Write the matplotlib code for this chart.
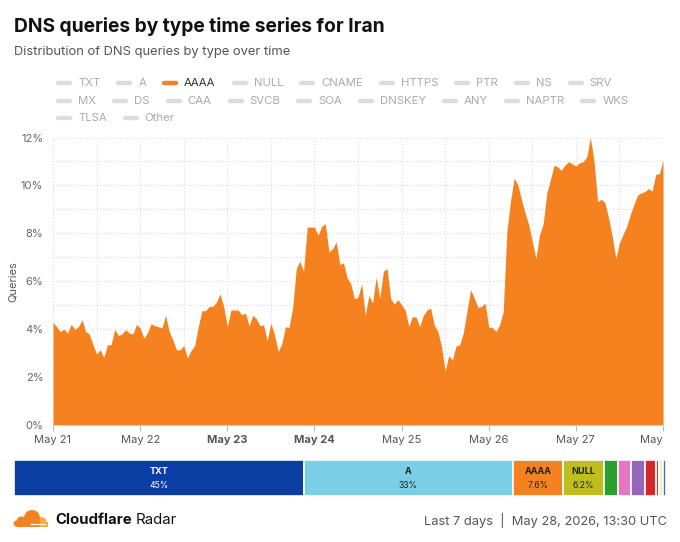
import matplotlib
matplotlib.use("Agg")
import matplotlib.pyplot as plt
from matplotlib.lines import Line2D
from matplotlib.patches import Circle, Rectangle
from datetime import datetime, timedelta

# ---------------- data ----------------
title = "DNS queries by type time series for Iran"
subtitle = "Distribution of DNS queries by type over time"
legend_items = ["TXT", "A", "AAAA", "NULL", "CNAME", "HTTPS", "PTR", "NS", "SRV",
                "MX", "DS", "CAA", "SVCB", "SOA", "DNSKEY", "ANY", "NAPTR", "WKS",
                "TLSA", "Other"]
active_item = "AAAA"

start = datetime(2026, 5, 21)
# AAAA share of DNS queries (%), hourly from May 21 00:00 UTC
aaaa = [
    4.28, 4.10, 3.90, 4.00, 3.84, 4.20, 4.00, 4.10, 4.40, 3.90,
    3.80, 3.35, 2.96, 3.14, 2.82, 3.35, 3.35, 4.00, 3.74, 3.80,
    3.98, 3.84, 3.80, 4.20, 4.05, 3.63, 3.84, 4.23, 4.15, 4.10,
    4.05, 4.58, 3.90, 3.56, 3.14, 3.14, 3.32, 2.80, 3.10, 3.32,
    4.10, 4.77, 4.77, 4.95, 4.95, 5.13, 5.47, 4.95, 4.10, 4.80,
    4.80, 4.80, 4.60, 4.67, 4.14, 4.58, 4.44, 4.14, 4.18, 3.52,
    4.25, 3.77, 3.07, 3.38, 4.10, 4.07, 4.90, 6.53, 6.84, 6.42,
    8.26, 8.26, 8.26, 7.92, 8.30, 8.40, 7.23, 7.36, 7.64, 6.70,
    6.77, 6.14, 5.90, 5.27, 5.33, 5.90, 4.58, 5.41, 5.09, 6.17,
    5.30, 6.42, 6.53, 5.27, 5.05, 5.23, 5.02, 4.80, 4.11, 4.53,
    4.50, 4.11, 4.58, 4.80, 4.88, 4.18, 3.90, 3.28, 2.26, 2.89,
    2.72, 3.30, 3.35, 3.84, 4.74, 5.65, 5.30, 4.91, 4.95, 5.09,
    4.09, 4.07, 3.90, 4.18, 4.74, 8.09, 9.34, 10.30, 10.04, 9.42,
    8.86, 8.37, 7.67, 6.95, 7.95, 8.40, 9.69, 10.25, 10.85, 10.77,
    10.63, 10.85, 10.99, 10.90, 10.81, 10.95, 10.99, 11.19, 12.00, 11.02,
    9.32, 9.42, 9.28, 8.65, 7.88, 6.97, 7.60, 7.95, 8.30, 8.79,
    9.21, 9.60, 9.69, 9.74, 9.87, 9.76, 10.46, 10.49, 11.05,
]
x_tick_labels = ["May 21", "May 22", "May 23", "May 24", "May 25", "May 26", "May 27", "May"]
bold_ticks = ["May 23", "May 24"]
y_ticks = [0, 2, 4, 6, 8, 10, 12]
y_label = "Queries"

# summary bar
seg_names = ["TXT", "A", "AAAA", "NULL", "CNAME", "HTTPS", "PTR", "NS", "SRV", "MX", "DS"]
seg_values = [44.5, 32.0, 7.7, 6.3, 2.1, 2.1, 2.1, 1.7, 0.35, 0.7, 0.45]
seg_colors = ["#0A3EA2", "#7ACFE6", "#F6821F", "#BEBE1C", "#2CA02C", "#E377C2",
              "#9467BD", "#D62728", "#8C564B", "#F6EDB8", "#4A6FA8"]
seg_labels = {"TXT": "45%", "A": "33%", "AAAA": "7.6%", "NULL": "6.2%"}
seg_text_colors = {"TXT": "white", "A": "#222222", "AAAA": "#222222", "NULL": "#222222"}

footer_right = "Last 7 days  |  May 28, 2026, 13:30 UTC"

# ---------------- figure ----------------
W, H = 680, 542
plt.rcParams["font.family"] = ["Inter", "DejaVu Sans"]
fig = plt.figure(figsize=(W / 100, H / 100), dpi=100)
fig.patch.set_facecolor("white")
renderer = fig.canvas.get_renderer()


def fx(x):
    return x / W


def fy(y):
    return 1 - y / H


def fit(t, target_w):
    bb = t.get_window_extent(renderer)
    t.set_fontsize(t.get_fontsize() * target_w / bb.width)
    return t


t = fig.text(fx(14), fy(27), title, fontsize=15, weight="bold", color="#111111", va="center")
fit(t, 371)
t = fig.text(fx(14), fy(52), subtitle, fontsize=10, color="#555555", va="center")
fit(t, 279)

# legend (flow layout)
row_y = [83, 101, 118]
lx, row = 56, 0
for name in legend_items:
    tt = fig.text(0, 0, name, fontsize=8.2)
    w = tt.get_window_extent(renderer).width
    tt.remove()
    if lx + 22 + w > 650:
        row += 1
        lx = 56
    y = row_y[row]
    active = name == active_item
    fig.add_artist(Line2D([fx(lx + 2), fx(lx + 14)], [fy(y), fy(y)], transform=fig.transFigure,
                          color="#F6821F" if active else "#DDDDDD", lw=3.2, solid_capstyle="round"))
    fig.text(fx(lx + 22), fy(y), name, fontsize=8.2, va="center",
             color="#333333" if active else "#AAAAAA")
    lx = lx + 22 + w + 16

# main chart
ax = fig.add_axes([fx(53), fy(425), fx(663) - fx(53), fy(137.5) - fy(425)])
times = [start + timedelta(hours=i) for i in range(len(aaaa))]
ax.fill_between(times, aaaa, 0, color="#F6821F", linewidth=0, zorder=2)
ax.set_xlim(start, start + timedelta(days=7))
ax.set_ylim(0, 12)
ax.set_yticks(y_ticks)
ax.set_yticks(range(0, 13), minor=True)
ax.set_yticklabels([f"{v}%" for v in y_ticks])
day_ticks = [start + timedelta(days=i) for i in range(len(x_tick_labels))]
ax.set_xticks(day_ticks)
ax.set_xticks([start + timedelta(hours=12 * i) for i in range(15)], minor=True)
ax.set_xticklabels(x_tick_labels)
for lab in ax.get_xticklabels():
    if lab.get_text() in bold_ticks:
        lab.set_fontweight("bold")
        lab.set_color("#333333")
    if lab.get_text() == "May":
        lab.set_horizontalalignment("right")
ax.grid(True, which="both", linestyle=(0, (1, 2)), color="#D9D9D9", linewidth=0.8, zorder=0)
ax.tick_params(axis="x", which="major", length=4, color="#BBBBBB", labelsize=8, labelcolor="#555555", pad=3)
ax.tick_params(axis="x", which="minor", length=0)
ax.tick_params(axis="y", which="both", length=0, labelsize=8, labelcolor="#666666", pad=7)
for s in ["top", "right", "left"]:
    ax.spines[s].set_visible(False)
ax.spines["bottom"].set_color("#CCCCCC")
ax.set_ylabel(y_label, fontsize=8, color="#555555")
ax.yaxis.set_label_coords((18 - 53) / 610, 0.5)
ax.set_axisbelow(True)

# summary bar
bax = fig.add_axes([fx(14), fy(496), fx(666) - fx(14), fy(460) - fy(496)])
left = 0
for name, v, c in zip(seg_names, seg_values, seg_colors):
    bax.barh(0, v, left=left, height=1, color=c, edgecolor="white", linewidth=1.2)
    if name in seg_labels:
        tc = seg_text_colors[name]
        bax.text(left + v / 2, 0.17, name, ha="center", va="center", fontsize=6.5, weight="bold", color=tc)
        bax.text(left + v / 2, -0.2, seg_labels[name], ha="center", va="center", fontsize=6.2, color=tc)
    left += v
bax.set_xlim(0, left)
bax.set_ylim(-0.5, 0.5)
bax.axis("off")

# footer logo (cloud)
lax = fig.add_axes([0, 0, 1, 1], facecolor="none")
lax.set_xlim(0, W)
lax.set_ylim(H, 0)
lax.set_aspect("equal")
lax.axis("off")
lax.add_patch(Circle((41.5, 522.0), 5.0, color="#FBAD41", lw=0))
lax.add_patch(Rectangle((38, 522), 9.5, 4.6, color="#FBAD41", lw=0))
lax.add_patch(Circle((32, 518.0), 8.0, color="#F6821F", lw=0))
lax.add_patch(Circle((21.5, 521.5), 5.0, color="#F6821F", lw=0))
lax.add_patch(Circle((16.5, 523.6), 3.0, color="#F6821F", lw=0))
lax.add_patch(Rectangle((16.5, 521.0), 23, 5.6, color="#F6821F", lw=0))
lax.add_patch(Rectangle((10, 526.6), 40, 6, color="white", lw=0))
lax.plot([30, 45], [524.4, 524.4], color="white", lw=0.9, solid_capstyle="butt")

t1 = fig.text(fx(55), fy(520), "Cloudflare", fontsize=10.8, weight="bold", color="#111111", va="center")
w1 = t1.get_window_extent(renderer).width
t2 = fig.text(fx(55 + w1 + 4), fy(520), "Radar", fontsize=10.8, color="#111111", va="center")
t3 = fig.text(fx(667), fy(520), footer_right, fontsize=10, color="#555555", va="center", ha="right")
fit(t3, 244)

fig.savefig("out.png", dpi=100, facecolor="white")
